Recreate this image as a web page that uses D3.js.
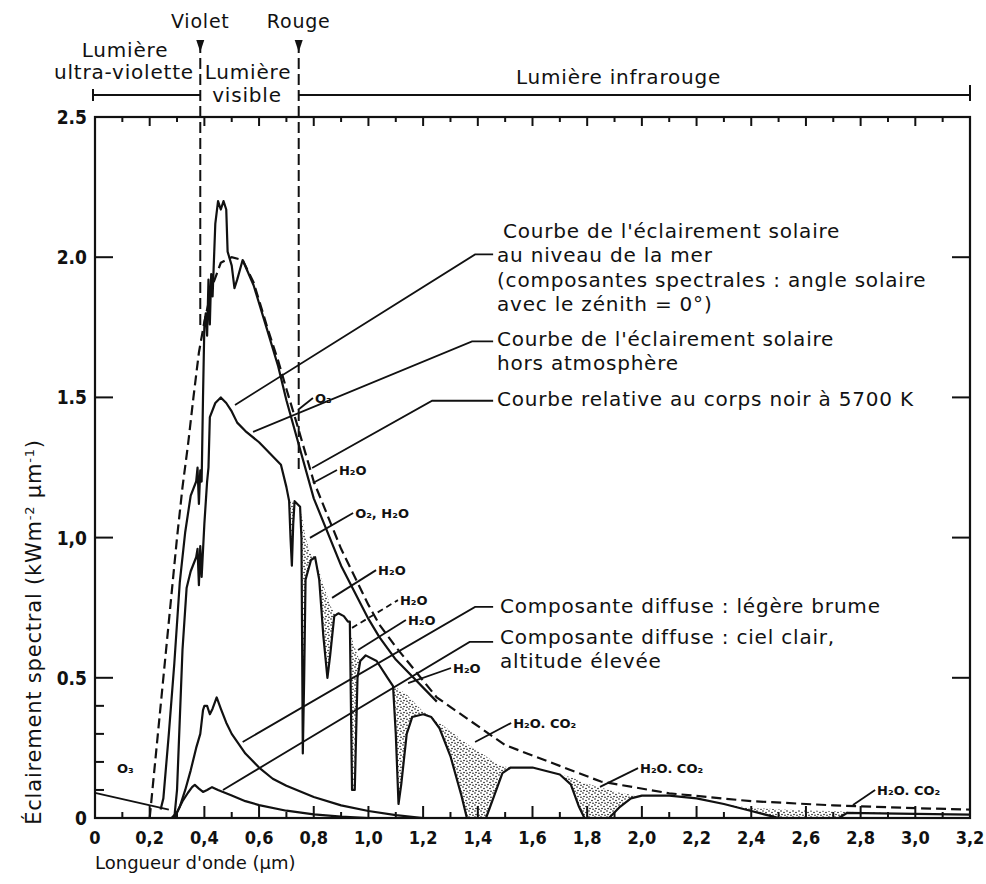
<!DOCTYPE html>
<html><head><meta charset="utf-8">
<script src="https://cdn.jsdelivr.net/npm/d3@7"></script>
<style>
html,body{margin:0;padding:0;background:#fff;}
svg{display:block;}
.t{font-family:"DejaVu Sans",sans-serif;fill:#111;letter-spacing:0.8px;}
.tick{font-family:"DejaVu Sans Condensed","DejaVu Sans",sans-serif;font-weight:bold;fill:#111;}
.sm{font-family:"DejaVu Sans",sans-serif;font-weight:bold;fill:#111;}
</style></head>
<body>
<svg id="c" width="986" height="884"></svg>
<script>
// ---------- DATA ----------
// Wavelength (µm) and spectral irradiance (kW m-2 µm-1)
const bbL = [0.20,0.22,0.24,0.26,0.28,0.30,0.32,0.34,0.36,0.38,0.40,0.43,0.46,0.50,0.54,0.58,0.63,0.67,0.70,0.74,0.80,0.90,1.00,1.04,1.10,1.25,1.50,1.85,2.10,2.40,2.70,3.00,3.20];
const bbV = [0,0.2,0.4,0.6,0.8,1.0,1.18,1.33,1.5,1.66,1.77,1.9,1.98,2.0,1.99,1.91,1.75,1.63,1.53,1.40,1.20,0.96,0.76,0.69,0.61,0.43,0.26,0.13,0.088,0.06,0.045,0.035,0.03];

const extL = [0.24,0.25,0.27,0.29,0.31,0.33,0.35,0.37,0.375,0.38,0.385,0.39,0.395,0.40,0.405,0.41,0.415,0.42,0.425,0.43,0.44,0.45,0.46,0.47,0.48,0.485,0.50,0.51,0.52,0.54,0.58,0.63,0.67,0.70,0.74,0.80,0.90,1.00,1.04,1.10,1.25];
const extV = [0.03,0.07,0.3,0.55,0.84,1.02,1.15,1.2,1.25,1.12,1.24,1.2,1.5,1.76,1.8,1.72,1.92,1.76,1.94,1.86,2.12,2.2,2.17,2.2,2.17,2.02,1.97,1.89,1.92,1.99,1.9,1.74,1.61,1.49,1.35,1.14,0.9,0.71,0.645,0.565,0.415];

const seaL = [0.29,0.30,0.31,0.32,0.335,0.35,0.37,0.375,0.38,0.385,0.39,0.40,0.41,0.415,0.42,0.44,0.46,0.48,0.50,0.52,0.55,0.60,0.64,0.68,0.70,0.71,0.715,0.72,0.725,0.73,0.75,0.755,0.76,0.765,0.77,0.79,0.805,0.82,0.835,0.85,0.86,0.875,0.89,0.91,0.925,0.932,0.94,0.95,0.96,0.97,0.99,1.03,1.07,1.09,1.10,1.11,1.12,1.14,1.16,1.20,1.23,1.26,1.30,1.34,1.36,1.43,1.46,1.49,1.52,1.60,1.70,1.74,1.77,1.79,1.88,1.92,1.96,2.00,2.10,2.20,2.30,2.40,2.48,2.50,2.72,2.75,3.00,3.20];
const seaV = [0,0.1,0.35,0.6,0.82,0.88,0.93,0.96,0.83,0.97,0.86,1.05,1.2,1.25,1.43,1.48,1.5,1.48,1.45,1.41,1.38,1.34,1.3,1.26,1.18,1.13,1.0,0.9,1.05,1.13,1.11,1.0,0.23,0.5,0.85,0.92,0.93,0.85,0.65,0.5,0.58,0.72,0.73,0.72,0.7,0.7,0.1,0.1,0.5,0.56,0.58,0.56,0.5,0.47,0.3,0.05,0.12,0.3,0.36,0.37,0.36,0.32,0.22,0.08,0,0,0.08,0.16,0.18,0.18,0.155,0.12,0.04,0,0,0.04,0.07,0.08,0.08,0.07,0.05,0.025,0.005,0,0,0.018,0.015,0.012];
// upper limit of the absorption bands (shaded) — equal to seaV outside the bands
const envV = [0,0.1,0.35,0.6,0.82,0.88,0.93,0.96,0.83,0.97,0.86,1.05,1.2,1.25,1.43,1.48,1.5,1.48,1.45,1.41,1.38,1.34,1.3,1.26,1.18,1.13,1.13,1.13,1.13,1.13,1.11,1.08,1.06,1.03,1.0,0.94,0.93,0.88,0.83,0.79,0.76,0.73,0.73,0.72,0.7,0.68,0.64,0.61,0.58,0.56,0.58,0.56,0.5,0.47,0.465,0.46,0.455,0.44,0.42,0.38,0.36,0.34,0.31,0.28,0.265,0.22,0.2,0.185,0.18,0.18,0.155,0.145,0.135,0.125,0.1,0.09,0.083,0.08,0.08,0.07,0.05,0.035,0.032,0.03,0.024,0.022,0.015,0.012];

const dif1L = [0.29,0.31,0.33,0.35,0.37,0.385,0.395,0.40,0.41,0.42,0.43,0.445,0.46,0.48,0.50,0.55,0.60,0.65,0.70,0.80,0.90,1.00,1.10,1.20];
const dif1V = [0,0.04,0.1,0.17,0.25,0.3,0.385,0.40,0.40,0.37,0.39,0.43,0.39,0.34,0.3,0.23,0.18,0.14,0.115,0.075,0.045,0.025,0.01,0];

const dif2L = [0.28,0.30,0.32,0.34,0.355,0.365,0.38,0.395,0.41,0.428,0.45,0.50,0.55,0.60,0.70,0.80,0.90,1.00];
const dif2V = [0,0.02,0.06,0.09,0.11,0.118,0.105,0.093,0.1,0.11,0.1,0.08,0.06,0.046,0.026,0.013,0.005,0];

const xTicks = [0,0.2,0.4,0.6,0.8,1.0,1.2,1.4,1.6,1.8,2.0,2.2,2.4,2.6,2.8,3.0,3.2];
const xTickLabels = ["0","0,2","0,4","0,6","0,8","1,0","1,2","1,4","1,6","1,8","2,0","2,2","2,4","2,6","2,8","3,0","3,2"];
const yTicks = [0,0.5,1.0,1.5,2.0,2.5];
const yTickLabels = ["0","0.5","1,0","1.5","2.0","2.5"];

const violetL = 0.385, rougeL = 0.745;

// small absorption labels: [text, leader start λ,v, leader end λ,v, dashed]
const bandLabels = [
  ["O₃", 0.742,1.455, 0.797,1.498, false],
  ["H₂O", 0.797,1.195, 0.885,1.241, false],
  ["O₂, H₂O", 0.786,0.999, 0.944,1.088, false],
  ["H₂O", 0.867,0.785, 1.028,0.884, false],
  ["H₂O", 0.94,0.678, 1.108,0.777, true],
  ["H₂O", 0.962,0.599, 1.137,0.706, false],
  ["H₂O", 1.145,0.481, 1.302,0.535, false],
  ["H₂O. CO₂", 1.39,0.271, 1.522,0.339, false],
  ["H₂O. CO₂", 1.847,0.111, 1.986,0.178, false],
  ["H₂O. CO₂", 2.772,0.046, 2.853,0.10, false]
];

// ---------- LAYOUT ----------
const svg = d3.select("#c");
const x = d3.scaleLinear().domain([0,3.2]).range([95,970]);
const y = d3.scaleLinear().domain([0,2.5]).range([818,117]);

const defs = svg.append("defs");
const pat = defs.append("pattern").attr("id","dots").attr("patternUnits","userSpaceOnUse")
  .attr("width",6).attr("height",6);
[[1,1],[4,2.5],[2,4.5],[5,5.2]].forEach(p=>pat.append("circle").attr("cx",p[0]).attr("cy",p[1]).attr("r",0.8).attr("fill","#111"));

const zip = (L,V)=>L.map((l,i)=>({l, v:V[i]}));
const line = d3.line().x(d=>x(d.l)).y(d=>y(d.v));

// shaded absorption bands
const bandData = seaL.map((l,i)=>({l, v:seaV[i], e:envV[i]}));
svg.append("path").datum(bandData)
  .attr("d", d3.area().x(d=>x(d.l)).y0(d=>y(d.v)).y1(d=>y(d.e)))
  .attr("fill","url(#dots)").attr("stroke","none");

// frame
svg.append("rect").attr("x",x(0)).attr("y",y(2.5)).attr("width",x(3.2)-x(0)).attr("height",y(0)-y(2.5))
  .attr("fill","none").attr("stroke","#111").attr("stroke-width",2.2);

// x ticks (top & bottom, inward)
d3.range(1,32).forEach(i=>{
  const l=i/10, major = i%2===0;
  svg.append("line").attr("x1",x(l)).attr("x2",x(l)).attr("y1",y(0)).attr("y2",y(0)-(major?12:6))
    .attr("stroke","#111").attr("stroke-width",2);
  svg.append("line").attr("x1",x(l)).attr("x2",x(l)).attr("y1",y(2.5)).attr("y2",y(2.5)+(major?9:5))
    .attr("stroke","#111").attr("stroke-width",2);
});
// y ticks
yTicks.forEach(v=>{
  if(v>0 && v<2.5){
    svg.append("line").attr("x1",x(0)).attr("x2",x(0)+18).attr("y1",y(v)).attr("y2",y(v)).attr("stroke","#111").attr("stroke-width",2);
    svg.append("line").attr("x1",x(3.2)).attr("x2",x(3.2)-18).attr("y1",y(v)).attr("y2",y(v)).attr("stroke","#111").attr("stroke-width",2);
  }
});
[0.1,0.2,0.3,0.4].forEach(v=>{
  svg.append("line").attr("x1",x(0)).attr("x2",x(0)+9).attr("y1",y(v)).attr("y2",y(v)).attr("stroke","#111").attr("stroke-width",2);
});

// tick labels
xTicks.forEach((t,i)=>svg.append("text").attr("class","tick").attr("x",x(t)).attr("y",y(0)+26)
  .attr("text-anchor","middle").attr("font-size",18).text(xTickLabels[i]));
yTicks.forEach((t,i)=>svg.append("text").attr("class","tick").attr("x",x(0)-8).attr("y",y(t)+7)
  .attr("text-anchor","end").attr("font-size",19).text(yTickLabels[i]));

// axis titles
svg.append("text").attr("class","t").attr("x",x(0)).attr("y",869).attr("font-size",18).style("letter-spacing","0px").text("Longueur d'onde (µm)");
svg.append("text").attr("class","t").attr("transform","translate(41,"+(632)+") rotate(-90)")
  .attr("text-anchor","middle").attr("font-size",21).style("letter-spacing","0.8px")
  .html('Éclairement spectral (kWm<tspan dy="-7" font-size="13">-2</tspan><tspan dy="7"> µm</tspan><tspan dy="-7" font-size="13">-1</tspan><tspan dy="7">)</tspan>');

// violet / rouge markers
[[violetL,"Violet",y(1.74)],[rougeL,"Rouge",y(1.24)]].forEach(([l,name,yEnd])=>{
  svg.append("line").attr("x1",x(l)).attr("x2",x(l)).attr("y1",42).attr("y2",yEnd)
    .attr("stroke","#111").attr("stroke-width",2).attr("stroke-dasharray","11,5");
  svg.append("path").attr("d",`M${x(l)-4},40 L${x(l)+4},40 L${x(l)},52 Z`).attr("fill","#111");
  svg.append("text").attr("class","t").attr("x",x(l)).attr("y",28).attr("text-anchor","middle").attr("font-size",19).text(name);
});
// spectral range brackets
const by = 95;
svg.append("line").attr("x1",x(0)-2).attr("x2",x(violetL)).attr("y1",by).attr("y2",by).attr("stroke","#111").attr("stroke-width",2);
svg.append("line").attr("x1",x(rougeL)).attr("x2",x(3.2)).attr("y1",by).attr("y2",by).attr("stroke","#111").attr("stroke-width",2);
svg.append("line").attr("x1",x(0)-2).attr("x2",x(0)-2).attr("y1",by-6).attr("y2",by+6).attr("stroke","#111").attr("stroke-width",2);
svg.append("line").attr("x1",x(3.2)).attr("x2",x(3.2)).attr("y1",by-10).attr("y2",by+6).attr("stroke","#111").attr("stroke-width",2);
svg.append("text").attr("class","t").attr("x",125).attr("y",57).attr("text-anchor","middle").attr("font-size",20).text("Lumière");
svg.append("text").attr("class","t").attr("x",124).attr("y",79).attr("text-anchor","middle").attr("font-size",20).text("ultra-violette");
svg.append("text").attr("class","t").attr("x",248).attr("y",79).attr("text-anchor","middle").attr("font-size",20).text("Lumière");
svg.append("text").attr("class","t").attr("x",247).attr("y",102).attr("text-anchor","middle").attr("font-size",20).text("visible");
svg.append("text").attr("class","t").attr("x",516).attr("y",84).attr("font-size",20).text("Lumière infrarouge");

// curves
svg.append("path").datum(zip(bbL,bbV)).attr("d",line).attr("fill","none").attr("stroke","#111").attr("stroke-width",2.2).attr("stroke-dasharray","10,5");
[zip(extL,extV), zip(seaL,seaV), zip(dif1L,dif1V), zip(dif2L,dif2V)].forEach(d=>
  svg.append("path").datum(d).attr("d",line).attr("fill","none").attr("stroke","#111").attr("stroke-width",2.2).attr("stroke-linejoin","round"));

// big annotations
const lead = (pts, dashed)=>svg.append("path").attr("d","M"+pts.map(p=>x(p[0])+","+y(p[1])).join("L"))
  .attr("fill","none").attr("stroke","#111").attr("stroke-width",1.8).attr("stroke-dasharray",dashed?"6,4":null);
lead([[1.456,2.01],[1.39,2.01],[0.512,1.473]]);
lead([[1.456,1.70],[1.379,1.70],[0.578,1.377]]);
lead([[1.456,1.488],[1.233,1.488],[0.794,1.248]]);
lead([[1.456,0.753],[1.39,0.753],[0.54,0.271]]);
lead([[1.456,0.628],[1.37,0.628],[0.468,0.10]]);

const block = (x0, y0, lines, dy)=>lines.forEach((s,i)=>svg.append("text").attr("class","t").attr("x",x0).attr("y",y0+i*dy).attr("font-size",20).text(s));
block(503, 238, ["Courbe de l'éclairement solaire"], 24);
block(497, 262, ["au niveau de la mer","(composantes spectrales : angle solaire","avec le zénith = 0°)"], 24.5);
block(497, 346, ["Courbe de l'éclairement solaire","hors atmosphère"], 24);
block(497, 406, ["Courbe relative au corps noir à 5700 K"], 24);
block(500, 613, ["Composante diffuse : légère brume"], 24);
block(500, 644, ["Composante diffuse : ciel clair,","altitude élevée"], 24);

// band labels
bandLabels.forEach(([txt,l1,v1,l2,v2,dashed])=>{
  lead([[l1,v1],[l2,v2]], dashed);
  svg.append("text").attr("class","sm").attr("x",x(l2)+2).attr("y",y(v2)+5).attr("font-size",13).text(txt);
});
// O3 bottom-left
svg.append("text").attr("class","sm").attr("x",117).attr("y",773).attr("font-size",13).text("O₃");
lead([[0.0,0.09],[0.27,0.03]]);
</script>
</body></html>
